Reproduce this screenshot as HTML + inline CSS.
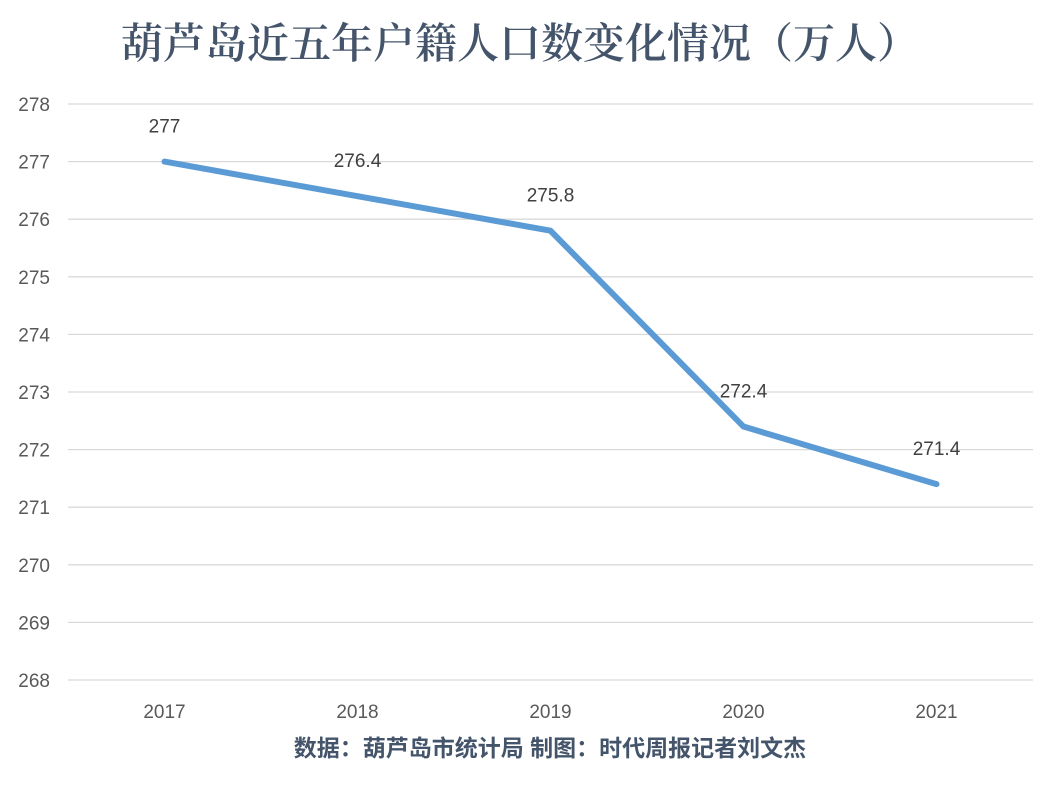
<!DOCTYPE html>
<html><head><meta charset="utf-8">
<style>
body{margin:0;background:#fff;width:1059px;height:795px;overflow:hidden;}
svg{display:block;}
</style></head>
<body>
<svg id="chart" width="1059" height="795" xmlns="http://www.w3.org/2000/svg">
<text x="520" y="58" text-anchor="middle" font-family="'Liberation Serif','Noto Serif CJK SC',serif" font-size="42" font-weight="600" fill="#44546a">葫芦岛近五年户籍人口数变化情况（万人）</text>
<g id="grid"></g><g id="yt"></g><g id="xt"></g><g id="series"></g><g id="labels"></g>
<text x="550" y="756" text-anchor="middle" font-family="'Liberation Sans','Noto Sans CJK SC',sans-serif" font-size="23" font-weight="bold" fill="#44546a">数据：葫芦岛市统计局 制图：时代周报记者刘文杰</text>
</svg>
<script>
const categories=['2017','2018','2019','2020','2021'];
const values=[277,276.4,275.8,272.4,271.4];
const valueLabels=['277','276.4','275.8','272.4','271.4'];
const yTicks=[268,269,270,271,272,273,274,275,276,277,278];
const NS='http://www.w3.org/2000/svg';
const x0=68,x1=1033,yTop=104,yBot=680,yMin=268,yMax=278;
const band=(x1-x0)/categories.length;
const xs=i=>x0+band*(i+0.5);
const ys=v=>yBot-(v-yMin)/(yMax-yMin)*(yBot-yTop);
function mk(t,a,p){const e=document.createElementNS(NS,t);for(const k in a)e.setAttribute(k,a[k]);p.appendChild(e);return e;}
const grid=document.getElementById('grid'),yt=document.getElementById('yt'),xt=document.getElementById('xt');
yTicks.forEach(v=>{
 const l=mk('line',{x1:x0,x2:x1,y1:ys(v),y2:ys(v),stroke:'#d9d9d9','stroke-width':1.3},grid);
 
 
 const t=mk('text',{x:50,y:ys(v)+7,'text-anchor':'end','font-family':'Liberation Sans, sans-serif','font-size':19,fill:'#595959'},yt);
 t.textContent=v;
 
 
});
categories.forEach((c,i)=>{
 const t=mk('text',{x:xs(i),y:718,'text-anchor':'middle','font-family':'Liberation Sans, sans-serif','font-size':19,fill:'#595959'},xt);
 t.textContent=c;
 
 
});
const pts=values.map((v,i)=>xs(i)+','+ys(v)).join(' ');
const pl=mk('polyline',{points:pts,fill:'none',stroke:'#5b9bd5','stroke-width':6,'stroke-linejoin':'round','stroke-linecap':'round'},document.getElementById('series'));


values.forEach((v,i)=>{
 const t=mk('text',{x:xs(i),y:ys(v)-29,'text-anchor':'middle','font-family':'Liberation Sans, sans-serif','font-size':19,fill:'#404040'},document.getElementById('labels'));
 t.textContent=valueLabels[i];
 
 
});
</script>
</body></html>
